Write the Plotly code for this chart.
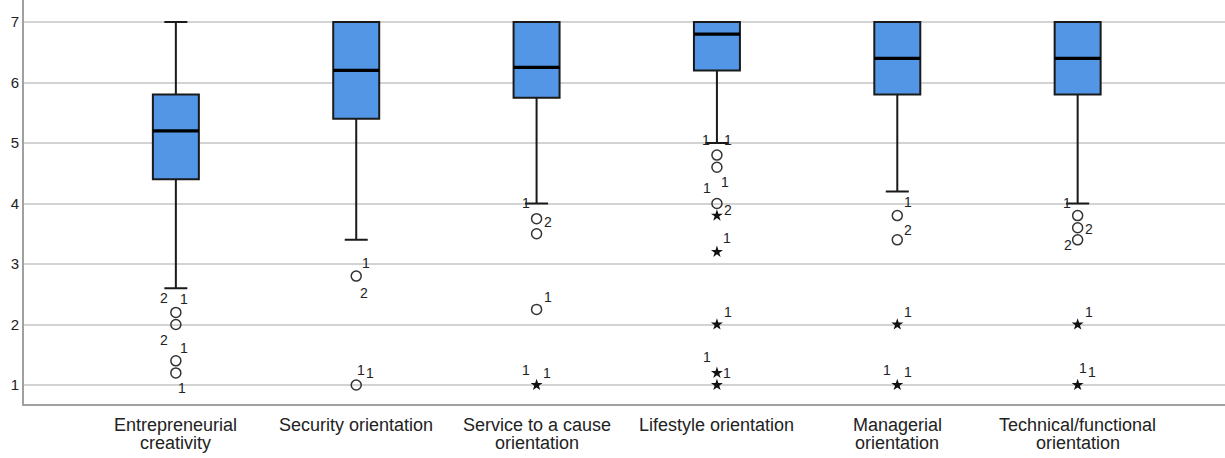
import plotly.graph_objects as go

categories = ["Entrepreneurial creativity", "Security orientation",
              "Service to a cause orientation", "Lifestyle orientation",
              "Managerial orientation", "Technical/functional orientation"]
label_lines = [["Entrepreneurial", "creativity"], ["Security orientation"],
               ["Service to a cause", "orientation"], ["Lifestyle orientation"],
               ["Managerial", "orientation"], ["Technical/functional", "orientation"]]

q1 = [4.4, 5.4, 5.75, 6.2, 5.8, 5.8]
median = [5.2, 6.2, 6.25, 6.8, 6.4, 6.4]
q3 = [5.8, 7.0, 7.0, 7.0, 7.0, 7.0]
lower_whisker = [2.6, 3.4, 4.0, 5.0, 4.2, 4.0]
upper_whisker = [7.0, 7.0, 7.0, 7.0, 7.0, 7.0]

# outliers (circles) and extreme values (stars) per category
outliers = [[2.2, 2.0, 1.4, 1.2], [2.8, 1.0], [3.75, 3.5, 2.25],
            [4.8, 4.6, 4.0], [3.8, 3.4], [3.8, 3.6, 3.4]]
extremes = [[], [], [1.0], [3.8, 3.2, 2.0, 1.2, 1.0], [2.0, 1.0], [2.0, 1.0]]

# case labels: (category index, y position, text, horizontal shift px)
case_labels = [
    (0, 2.44, "2", -12), (0, 2.42, "1", 8), (0, 1.74, "2", -12), (0, 1.61, "1", 8), (0, 0.95, "1", 6),
    (1, 3.02, "1", 10), (1, 2.52, "2", 8), (1, 1.24, "1", 5), (1, 1.2, "1", 14),
    (2, 4.01, "1", -11), (2, 3.69, "2", 11), (2, 2.45, "1", 11), (2, 1.25, "1", -11), (2, 1.2, "1", 10),
    (3, 5.05, "1", -11), (3, 5.05, "1", 11), (3, 4.26, "1", -10), (3, 4.36, "1", 8), (3, 3.89, "2", 11),
    (3, 3.43, "1", 10), (3, 2.21, "1", 11), (3, 1.46, "1", -10), (3, 1.2, "1", 10),
    (4, 4.02, "1", 11), (4, 3.56, "2", 11), (4, 2.21, "1", 11), (4, 1.25, "1", -10), (4, 1.21, "1", 11),
    (5, 4.01, "1", -11), (5, 3.58, "2", 11), (5, 3.31, "2", -10), (5, 2.21, "1", 11), (5, 1.28, "1", 5), (5, 1.21, "1", 14),
]

y_ticks = [1, 2, 3, 4, 5, 6, 7]

BOX_W = 0.255
FILL = "rgb(84,150,230)"
FONT = "Liberation Sans, Arial, sans-serif"

fig = go.Figure()
xs = list(range(len(categories)))

fig.add_trace(go.Box(
    x=xs, q1=q1, median=median, q3=q3,
    lowerfence=lower_whisker, upperfence=upper_whisker,
    width=BOX_W, whiskerwidth=0.5, boxpoints=False,
    fillcolor=FILL, line=dict(color="#1a1a1a", width=2),
    showlegend=False, hoverinfo="skip",
))

# thick median lines
for i in xs:
    fig.add_trace(go.Scatter(
        x=[i - BOX_W / 2, i + BOX_W / 2], y=[median[i], median[i]],
        mode="lines", line=dict(color="black", width=3.2),
        showlegend=False, hoverinfo="skip"))

# outliers
ox, oy, ex, ey = [], [], [], []
for i in xs:
    ox += [i] * len(outliers[i]); oy += outliers[i]
    ex += [i] * len(extremes[i]); ey += extremes[i]
fig.add_trace(go.Scatter(x=ox, y=oy, mode="markers",
                         marker=dict(symbol="circle-open", size=10, color="#333333",
                                     line=dict(width=1.5, color="#333333")),
                         showlegend=False, hoverinfo="skip"))
fig.add_trace(go.Scatter(x=ex, y=ey, mode="markers",
                         marker=dict(symbol="star", size=9, color="#111111", line=dict(width=0)),
                         showlegend=False, hoverinfo="skip"))

for (ci, yv, txt, dx) in case_labels:
    fig.add_annotation(x=ci, y=yv, text=txt, showarrow=False, xshift=dx,
                       font=dict(family=FONT, size=14, color="#222222"))

# category labels
for i, lines in enumerate(label_lines):
    for k, line in enumerate(lines):
        fig.add_annotation(x=i, y=0, yref="paper", text=line, showarrow=False,
                           yanchor="top", yshift=-9 - 18 * k,
                           font=dict(family=FONT, size=18, color="#222222"))

fig.update_layout(
    width=1225, height=458,
    margin=dict(l=24, r=0, t=0, b=54, autoexpand=False),
    paper_bgcolor="white", plot_bgcolor="white",
    xaxis=dict(range=[-0.842, 5.817], showticklabels=False, showgrid=False,
               zeroline=False, showline=True, linecolor="#a0a0a0", linewidth=2,
               tickvals=xs, automargin=False),
    yaxis=dict(range=[0.686, 7.364], tickvals=y_ticks, showgrid=True,
               gridcolor="#d3d3d3", gridwidth=1.5, zeroline=False,
               showline=True, linecolor="#a0a0a0", linewidth=2, automargin=False,
               tickfont=dict(family=FONT, size=15, color="#222222")),
)

fig.write_html("out.html", config={"displayModeBar": False},
               post_script="document.body.style.margin='0';document.body.style.overflow='hidden';")
